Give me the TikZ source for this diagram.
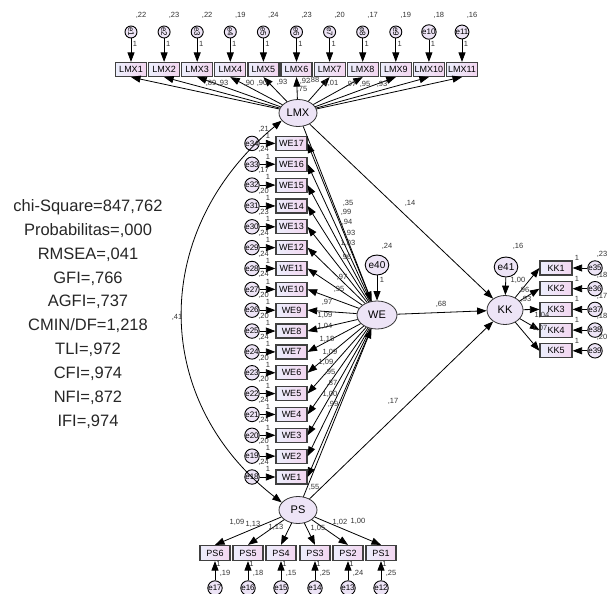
\documentclass[tikz,border=0pt]{standalone}
\usepackage{fontspec}
\setmainfont{Liberation Sans}
\usetikzlibrary{arrows.meta,shapes.geometric}
\definecolor{boxl}{RGB}{236,238,252}
\definecolor{boxr}{RGB}{243,214,240}
\definecolor{latf}{RGB}{237,228,246}
\begin{document}
\begin{tikzpicture}[x=1pt,y=-1pt,
  ind/.style={draw=black!75,line width=1.2pt,left color=boxl,right color=boxr,minimum width=31pt,minimum height=14pt,inner sep=0pt,font=\fontsize{9}{9}\selectfont},
  lat/.style={ellipse,draw=black!80,line width=0.8pt,fill=latf,minimum width=38pt,minimum height=27pt,inner sep=0pt,font=\fontsize{11}{11}\selectfont},
  err/.style={circle,draw=black,line width=0.9pt,fill=latf,minimum size=12pt,inner sep=0pt,font=\fontsize{8}{8}\selectfont},
  berr/.style={ellipse,draw=black,line width=0.9pt,fill=latf,minimum width=18pt,minimum height=20pt,inner sep=0pt,font=\fontsize{10}{10}\selectfont},
  lbl/.style={inner sep=0pt,font=\fontsize{7.5}{7.5}\selectfont,text=black!80},
  fit/.style={inner sep=0pt,font=\fontsize{16.5}{16.5}\selectfont,text=black!85},
  arr/.style={-{Triangle[length=9.5pt,width=7pt]},line width=0.8pt},
  darr/.style={{Triangle[length=9.5pt,width=7pt]}-{Triangle[length=9.5pt,width=7pt]},line width=0.8pt},
]
\useasboundingbox (0,0) rectangle (608,594);

% latent variables
\node[lat] (lmx) at (298,113) {LMX};
\node[lat,minimum width=40pt,minimum height=28pt] (we) at (377,315) {WE};
\node[lat,minimum width=36pt,minimum height=29pt] (kk) at (505,310) {KK};
\node[lat] (ps) at (298,510) {PS};
\node[berr] (e40) at (377,265) {e40};
\node[berr] (e41) at (506,267) {e41};
\node[lbl] at (387,246) {,24};
\node[lbl] at (382,280) {1};
\node[lbl] at (518,246) {,16};
\draw[arr] (e40) -- (we);
\draw[arr] (e41) -- (kk);

% LMX indicators
\foreach \i/\v in {1/22,2/23,3/22,4/19,5/24,6/23,7/20,8/17,9/19,10/18,11/16} {
  \pgfmathsetmacro\xx{131+33.1*(\i-1)}
  \pgfmathsetmacro\rr{\i<10 ? -90 : 0}
  \node[ind] (lmx\i) at (\xx,69.5) {LMX\i};
  \node[err,rotate=\rr] (e\i) at (\xx,32) {e\i};
  \node[lbl] at (\xx+10,15) {,\v};
  \node[lbl] at (\xx+4,44) {1};
  \draw[arr] (e\i) -- (lmx\i);
  \draw[arr] (lmx) -- (lmx\i.south);
}

% WE indicators
\foreach \j/\v in {1/24,2/20,3/24,4/24,5/20,6/20,7/24,8/20,9/20,10/24,11/24,12/24,13/23,14/20,15/17,16/24,17/21} {
  \pgfmathsetmacro\yy{477-20.85*(\j-1)}
  \pgfmathtruncatemacro\en{17+\j}
  \node[ind] (we\j) at (291.5,\yy) {WE\j};
  \node[err,minimum size=13pt] (e\en) at (252,\yy) {e\en};
  \node[lbl] at (263.5,\yy-14.5) {,\v};
  \node[lbl] at (268,\yy-7.8) {1};
  \draw[arr] (e\en) -- (we\j);
  \draw[arr] (we) -- (we\j.east);
}

% KK indicators
\foreach \k/\v in {1/23,2/18,3/17,4/18,5/20} {
  \pgfmathsetmacro\yy{268+20.7*(\k-1)}
  \pgfmathtruncatemacro\en{34+\k}
  \node[ind,minimum width=32pt] (kk\k) at (556,\yy) {KK\k};
  \node[err,minimum size=14pt] (e\en) at (595,\yy) {e\en};
  \node[lbl,anchor=east] at (607.5,\yy-13.5) {,\v};
  \node[lbl] at (577,\yy-10) {1};
  \draw[arr] (e\en) -- (kk\k);
  \draw[arr] (kk) -- (kk\k.west);
}

% PS indicators
\foreach \n/\x/\en/\v in {6/215/17/19,5/248/16/18,4/281/15/15,3/315/14/25,2/348/13/24,1/381/12/25} {
  \node[ind,minimum width=30pt,minimum height=15pt] (ps\n) at (\x,553) {PS\n};
  \node[err,minimum size=14pt] (e\en) at (\x,588) {e\en};
  \node[lbl] at (\x+10,573) {,\v};
  \node[lbl] at (\x+3.5,564) {1};
  \draw[arr] (e\en) -- (ps\n);
  \draw[arr] (ps) -- (ps\n.north);
}

% structural paths
\draw[arr] (lmx) -- (we);
\draw[arr] (ps) -- (we);
\draw[arr] (lmx) -- (kk);
\draw[arr] (we) -- (kk);
\draw[arr] (ps) -- (kk);
\draw[darr] (lmx.205) .. controls (150,230) and (150,400) .. (ps.155);

% path labels
\node[lbl] at (177,317) {,41};
\node[lbl] at (410,203) {,14};
\node[lbl] at (441,304) {,68};
\node[lbl] at (393,401) {,17};
\node[lbl] at (314,487) {,55};

% LMX loadings
\node[lbl] at (211,83) {,89};
\node[lbl] at (223,83) {,93};
\node[lbl] at (249,83) {,90};
\node[lbl] at (262,83) {,90};
\node[lbl] at (282,82) {,93};
\node[lbl] at (305,81) {,92};
\node[lbl] at (314,80) {,88};
\node[lbl] at (302,89) {,75};
\node[lbl] at (331,83) {1,01};
\node[lbl] at (351,84) {,97};
\node[lbl] at (365,84) {,95};
\node[lbl] at (382,84) {,93};

% WE loadings
\node[lbl] at (348,203) {,35};
\node[lbl] at (346,212) {,99};
\node[lbl] at (347,222) {,94};
\node[lbl] at (350,233) {,93};
\node[lbl] at (348,243) {1,03};
\node[lbl] at (346,257) {,96};
\node[lbl] at (342,277) {,97};
\node[lbl] at (339,289) {,95};
\node[lbl] at (327,302) {,97};
\node[lbl] at (325,315) {1,09};
\node[lbl] at (325,326) {1,04};
\node[lbl] at (327,339) {1,18};
\node[lbl] at (330,352) {1,09};
\node[lbl] at (326,362) {1,09};
\node[lbl] at (330,372) {,95};
\node[lbl] at (332,383) {,87};
\node[lbl] at (330,394) {1,00};
\node[lbl] at (333,404) {,99};

% KK loadings
\node[lbl] at (518,280) {1,00};
\node[lbl] at (524,290) {,96};
\node[lbl] at (526,299) {,93};
\node[lbl] at (542,315) {1,04};
\node[lbl] at (540,328) {1,07};

% PS loadings
\node[lbl] at (237,522) {1,09};
\node[lbl] at (253,524) {1,13};
\node[lbl] at (276,527) {1,13};
\node[lbl] at (318,528) {1,05};
\node[lbl] at (340,522) {1,02};
\node[lbl] at (358,521) {1,00};

% fit indices
\node[fit] at (88,207) {chi-Square=847,762};
\node[fit] at (88,231) {Probabilitas=,000};
\node[fit] at (88,255) {RMSEA=,041};
\node[fit] at (88,279) {GFI=,766};
\node[fit] at (88,302) {AGFI=,737};
\node[fit] at (88,326) {CMIN/DF=1,218};
\node[fit] at (88,350) {TLI=,972};
\node[fit] at (88,374) {CFI=,974};
\node[fit] at (88,398) {NFI=,872};
\node[fit] at (88,422) {IFI=,974};
\end{tikzpicture}
\end{document}
